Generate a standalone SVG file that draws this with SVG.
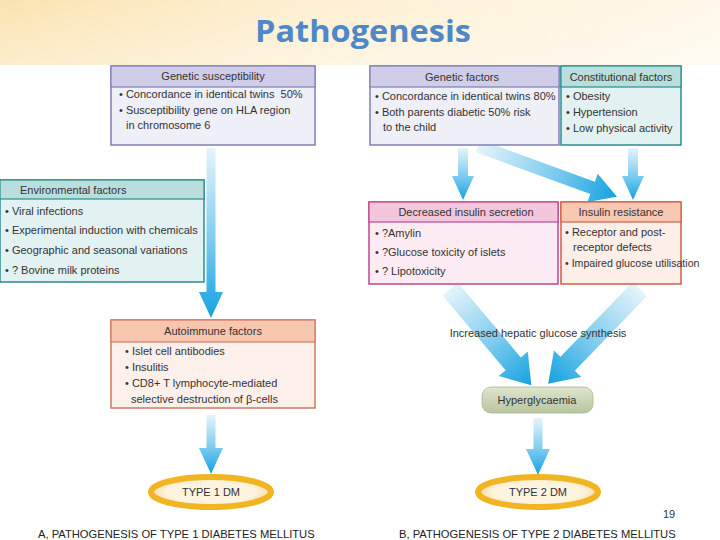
<svg xmlns="http://www.w3.org/2000/svg" width="720" height="540" viewBox="0 0 720 540">
<defs>
<linearGradient id="bg" x1="0" y1="0" x2="1" y2="0">
<stop offset="0" stop-color="#fae3b0"/>
<stop offset="0.4" stop-color="#fdefd0"/>
<stop offset="1" stop-color="#fff8ea"/>
</linearGradient>
<linearGradient id="bgv" x1="0" y1="0" x2="0" y2="1">
<stop offset="0" stop-color="#ffffff" stop-opacity="0"/>
<stop offset="1" stop-color="#ffffff" stop-opacity="0.35"/>
</linearGradient>
<linearGradient id="arr" x1="0" y1="0" x2="0" y2="1">
<stop offset="0" stop-color="#e6f4fb"/>
<stop offset="0.55" stop-color="#7ccbef"/>
<stop offset="1" stop-color="#14a2e0"/>
</linearGradient>
<linearGradient id="hyp" x1="0" y1="0" x2="0" y2="1">
<stop offset="0" stop-color="#dfe6cf"/>
<stop offset="1" stop-color="#b8c59e"/>
</linearGradient>
<radialGradient id="ring" cx="0.5" cy="0.5" r="0.5">
<stop offset="0.75" stop-color="#fdf3df"/>
<stop offset="1" stop-color="#f6dca8"/>
</radialGradient>
<style>
text{font-family:"Liberation Sans",Arial,sans-serif;fill:#333;font-size:11px}
.h{text-anchor:middle}
.cap{font-size:11.2px;fill:#222}
.lav{fill:#efeff8;stroke:#7f7fb8;stroke-width:1.5}
.lavh{fill:#cfcde8;stroke:#7f7fb8;stroke-width:1.2}
.tea{fill:#e2f2f2;stroke:#2c8c92;stroke-width:1.5}
.teah{fill:#b9dedd;stroke:#2c8c92;stroke-width:1.2}
.pnk{fill:#fcebf2;stroke:#c0478a;stroke-width:1.5}
.pnkh{fill:#f3c6dc;stroke:#c0478a;stroke-width:1.2}
.org{fill:#fdeee7;stroke:#d05f48;stroke-width:1.5}
.orgh{fill:#f8c9b2;stroke:#d05f48;stroke-width:1.2}
.aut{fill:#fdf0ea;stroke:#cf7a62;stroke-width:1.5}
.auth{fill:#f6c6ae;stroke:#cf7a62;stroke-width:1.2}
.arrow{fill:url(#arr)}
.dm{fill:url(#ring);stroke:#f1b521;stroke-width:6}
</style>
</defs>
<rect x="0" y="0" width="720" height="540" fill="#ffffff"/>
<rect x="0" y="0" width="720" height="65" fill="url(#bg)"/>
<rect x="0" y="0" width="720" height="65" fill="url(#bgv)"/>
<text x="363" y="42" text-anchor="middle" style="font-family:'Open Sans','Noto Sans',sans-serif;font-weight:700;font-size:30px;fill:#4f87c7" textLength="216" lengthAdjust="spacingAndGlyphs">Pathogenesis</text>

<g id="connectors">
<path class="arrow" d="M-4.5 0 L4.5 0 L4.5 144 L12 144 L0 170 L-12 144 L-4.5 144 Z" transform="translate(211,148)"/>
<path class="arrow" d="M-4.5 0 L4.5 0 L4.5 33 L12 33 L0 59 L-12 33 L-4.5 33 Z" transform="translate(211,415)"/>
<path class="arrow" d="M-5 0 L5 0 L5 28 L11 28 L0 52 L-11 28 L-5 28 Z" transform="translate(463,148)"/>
<path class="arrow" d="M-5 0 L5 0 L5 28 L11 28 L0 52 L-11 28 L-5 28 Z" transform="translate(633,148)"/>
<path class="arrow" d="M-6.5 0 L6.5 0 L6.5 122 L15 122 L0 148 L-15 122 L-6.5 122 Z" transform="translate(478,146) rotate(-69.9)"/>
<path class="arrow" d="M-10 0 L10 0 L10 98 L19 98 L0 126 L-19 98 L-10 98 Z" transform="translate(450,289) rotate(-40.2)"/>
<path class="arrow" d="M-10 0 L10 0 L10 104 L19 104 L0 132 L-19 104 L-10 104 Z" transform="translate(640,289) rotate(44.1)"/>
<path class="arrow" d="M-4.5 0 L4.5 0 L4.5 31 L12 31 L0 57 L-12 31 L-4.5 31 Z" transform="translate(538,418)"/>
</g>

<g id="genetic-susceptibility">
<rect class="lav" x="111" y="66" width="204" height="79"/>
<rect class="lavh" x="111" y="66" width="204" height="21"/>
<text class="h" x="213" y="80">Genetic susceptibility</text>
<text x="119" y="98" xml:space="preserve">• Concordance in identical twins  50%</text>
<text x="119" y="114">• Susceptibility gene on HLA region</text>
<text x="126" y="129">in chromosome 6</text>
</g>

<g id="environmental-factors">
<rect class="tea" x="0" y="180" width="204" height="102"/>
<rect class="teah" x="0" y="180" width="204" height="19"/>
<text x="20" y="194">Environmental factors</text>
<text x="5" y="215">• Viral infections</text>
<text x="5" y="234">• Experimental induction with chemicals</text>
<text x="5" y="254">• Geographic and seasonal variations</text>
<text x="5" y="274">• ? Bovine milk proteins</text>
</g>

<g id="autoimmune-factors">
<rect class="aut" x="111" y="320" width="204" height="88"/>
<rect class="auth" x="111" y="320" width="204" height="22"/>
<text class="h" x="213" y="335">Autoimmune factors</text>
<text x="125" y="355">• Islet cell antibodies</text>
<text x="125" y="371">• Insulitis</text>
<text x="125" y="387">• CD8+ T lymphocyte-mediated</text>
<text x="131" y="403">selective destruction of β-cells</text>
</g>

<g id="type1-dm">
<ellipse class="dm" cx="211" cy="492" rx="60" ry="15"/>
<text class="h" x="211" y="496">TYPE 1 DM</text>
</g>

<g id="genetic-factors">
<rect class="lav" x="370" y="66" width="189" height="79"/>
<rect class="lavh" x="370" y="66" width="189" height="21"/>
<text class="h" x="462" y="81">Genetic factors</text>
<text x="375" y="100">• Concordance in identical twins 80%</text>
<text x="375" y="116">• Both parents diabetic 50% risk</text>
<text x="383" y="131">to the child</text>
</g>

<g id="constitutional-factors">
<rect class="tea" x="561" y="66" width="120" height="79"/>
<rect class="teah" x="561" y="66" width="120" height="21"/>
<text class="h" x="621" y="81">Constitutional factors</text>
<text x="566" y="100">• Obesity</text>
<text x="566" y="116">• Hypertension</text>
<text x="566" y="132">• Low physical activity</text>
</g>

<g id="decreased-insulin-secretion">
<rect class="pnk" x="369" y="202" width="189" height="82"/>
<rect class="pnkh" x="369" y="202" width="189" height="20"/>
<text class="h" x="466" y="216">Decreased insulin secretion</text>
<text x="375" y="237">• ?Amylin</text>
<text x="375" y="256">• ?Glucose toxicity of islets</text>
<text x="375" y="275">• ? Lipotoxicity</text>
</g>

<g id="insulin-resistance">
<rect class="org" x="561" y="202" width="120" height="82"/>
<rect class="orgh" x="561" y="202" width="120" height="20"/>
<text class="h" x="621" y="216">Insulin resistance</text>
<text x="565" y="236">• Receptor and post-</text>
<text x="573" y="251">receptor defects</text>
<text x="565" y="267" style="font-size:10.6px">• Impaired glucose utilisation</text>
</g>

<g id="hepatic-label">
<text class="h" x="538" y="337">Increased hepatic glucose synthesis</text>
</g>

<g id="hyperglycaemia">
<rect x="482" y="387" width="111" height="26" rx="9" fill="url(#hyp)" stroke="#aab78f" stroke-width="0.8"/>
<text class="h" x="537" y="404">Hyperglycaemia</text>
</g>

<g id="type2-dm">
<ellipse class="dm" cx="538" cy="492" rx="60" ry="15"/>
<text class="h" x="538" y="496">TYPE 2 DM</text>
</g>

<text x="663" y="518" style="font-size:11px;fill:#333">19</text>
<text class="cap" x="38" y="538">A, PATHOGENESIS OF TYPE 1 DIABETES MELLITUS</text>
<text class="cap" x="399" y="538">B, PATHOGENESIS OF TYPE 2 DIABETES MELLITUS</text>
</svg>
